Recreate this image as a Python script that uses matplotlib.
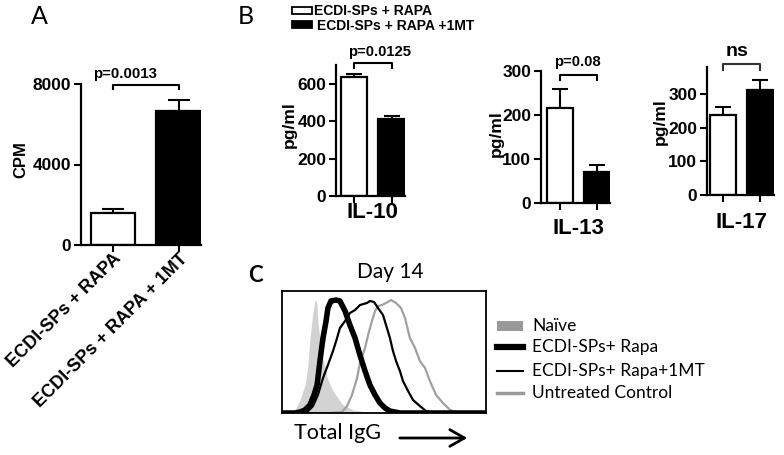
import matplotlib
matplotlib.use("Agg")
import matplotlib.pyplot as plt
from matplotlib.patches import Rectangle, FancyArrowPatch
from matplotlib.lines import Line2D

plt.rcParams['font.family'] = ['Liberation Sans', 'DejaVu Sans']

# ---------------- data ----------------
groups = ["ECDI-SPs + RAPA", "ECDI-SPs + RAPA + 1MT"]
cpm_vals = [1600, 6650]
cpm_err = [200, 570]

il10_vals = [635, 410]
il10_err = [15, 20]
il13_vals = [217, 70]
il13_err = [42, 16]
il17_vals = [237, 313]
il17_err = [24, 29]

legend_b = ["ECDI-SPs + RAPA", "ECDI-SPs + RAPA +1MT"]

# flow histogram (x: fluorescence, arbitrary 0-100 ; y: % of max)
naive_x = [0, 3.9, 6.4, 8.8, 11.3, 12.7, 13.7, 15.2, 16.2, 17.2, 17.6, 18.6, 19.6, 21.1, 22.1, 25, 27.5, 29.9, 34.8, 41.7, 57.8, 100]
naive_y = [0, 0.8, 2.5, 10.7, 23, 39, 61, 83, 93, 89, 75, 61, 48, 37, 29, 18, 12, 6.6, 2.5, 0.8, 0, 0]
rapa_x = [0, 6.4, 8.8, 11.3, 13.7, 15.7, 17.2, 18.6, 20.1, 21.6, 22.5, 24, 26.5, 28.4, 30.9, 33.3, 35.8, 38.2, 40.7, 43.1, 45.6, 48, 50.5, 52.9, 57.8, 100]
rapa_y = [0, 0, 0.8, 2.5, 6.6, 14.8, 23, 42.6, 61.5, 75.4, 86, 91.8, 92.6, 91.8, 83.6, 72, 61.5, 47.5, 34.4, 23, 14.8, 8.2, 4.1, 1.6, 0, 0]
mt_x = [0, 8.8, 12.3, 15.2, 17.6, 20.1, 22.5, 25, 27, 28.4, 30.9, 33.3, 35.8, 38.2, 41.7, 43.1, 45.1, 47.1, 49.5, 51, 52.9, 54.4, 55.9, 57.8, 59.3, 61.8, 64.2, 67.6, 70.6, 74, 100]
mt_y = [0, 0, 0.8, 5.7, 14.8, 28.7, 39.3, 50.8, 61.5, 69.7, 75.4, 82, 84.4, 88.5, 90.2, 91.8, 91, 86, 80.3, 72.1, 61.5, 50.8, 42.6, 34.4, 26.2, 18, 10.7, 5.7, 1.6, 0, 0]
untr_x = [0, 23.5, 29.4, 31.9, 34.3, 36.8, 38.2, 40.7, 42.2, 44.1, 45.6, 47.1, 49, 51, 53.4, 55.9, 58.3, 60.3, 62.7, 65.2, 67.6, 70.1, 72.5, 75.5, 78.9, 82.4, 85.3, 92.2, 100]
untr_y = [0, 0, 0.8, 5.7, 14.8, 28.7, 41, 53.3, 63.9, 75.4, 83.6, 87.7, 88.5, 90.2, 92.6, 90.2, 86.1, 77.9, 61.5, 53.3, 42.6, 36.9, 26.2, 14.8, 8.2, 2.5, 0.8, 0, 0]
legend_c = ["Naïve", "ECDI-SPs+ Rapa", "ECDI-SPs+ Rapa+1MT", "Untreated Control"]

W, H = 784, 455
fig = plt.figure(figsize=(W / 100, H / 100), dpi=100)


def px_axes(l, r, b, t):
    return fig.add_axes([l / W, 1 - b / H, (r - l) / W, (b - t) / H])


def bar_panel(ax, vals, errs, ylim, yticks, xlim, width, capsize, bracket=None, bcol='black'):
    x = [0, 1]
    ax.bar(x, vals, width=width, color=['white', 'black'], edgecolor='black', linewidth=1.6, zorder=2)
    ax.errorbar(x, vals, yerr=[[0, 0], errs], fmt='none', ecolor='black', elinewidth=1.5,
                capsize=capsize, capthick=1.5, zorder=1)
    ax.set_xlim(*xlim)
    ax.set_ylim(*ylim)
    ax.set_yticks(yticks)
    ax.set_xticks(x)
    ax.set_xticklabels([])
    for s in ['top', 'right']:
        ax.spines[s].set_visible(False)
    for s in ['left', 'bottom']:
        ax.spines[s].set_linewidth(1.6)
    ax.tick_params(axis='both', direction='out', length=5, width=1.5, pad=2, labelsize=12.5)
    for lb in ax.get_yticklabels():
        lb.set_fontweight('bold')
    ax.patch.set_visible(False)
    if bracket is not None:
        yb, yl = bracket
        ax.plot([0, 0, 1, 1], [yl, yb, yb, yl], color=bcol, lw=1.5, clip_on=False)


# Panel A
axA = px_axes(81, 201, 245, 84)
bar_panel(axA, cpm_vals, cpm_err, (0, 8000), [0, 4000, 8000], (-0.485, 1.34), 0.68, 8,
          bracket=(7950, 7750))

# Panel B
ax10 = px_axes(336, 405, 196, 65)
bar_panel(ax10, il10_vals, il10_err, (0, 700), [0, 200, 400, 600], (-0.47, 1.35), 0.7, 6,
          bracket=(712, 684))
ax13 = px_axes(541, 610, 203, 71)
bar_panel(ax13, il13_vals, il13_err, (0, 300), [0, 100, 200, 300], (-0.51, 1.35), 0.7, 6,
          bracket=(291, 279))
ax17 = px_axes(707, 774, 195, 67)
bar_panel(ax17, il17_vals, il17_err, (0, 380), [0, 100, 200, 300], (-0.43, 1.38), 0.7, 6,
          bracket=(389, 371), bcol='#333333')

# Panel C histogram
axC = px_axes(282, 486, 413, 291)
axC.fill_between(naive_x, naive_y, 0, color='#d2d2d2', lw=0, zorder=1)
axC.plot(untr_x, untr_y, color='#a0a0a0', lw=1.6, zorder=2)
axC.plot(mt_x, mt_y, color='black', lw=1.6, zorder=3)
axC.plot(rapa_x, rapa_y, color='black', lw=4.0, zorder=4, solid_joinstyle='round')
axC.set_xlim(0, 100)
axC.set_ylim(0, 100)
axC.set_xticks([])
axC.set_yticks([])
for s in axC.spines.values():
    s.set_linewidth(1.3)

# ---------------- overlay for text ----------------
ov = fig.add_axes([0, 0, 1, 1])
ov.set_xlim(0, W)
ov.set_ylim(H, 0)
ov.axis('off')

cal = ['Lato', 'DejaVu Sans']
ov.text(39, 16, "A", fontsize=18, family=cal, ha='center', va='center')
ov.text(246, 16, "B", fontsize=18, family=cal, ha='center', va='center')
ov.text(255, 276, "C", fontsize=16, family=cal, fontweight='bold', ha='center', va='center')

ov.text(125.5, 74, "p=0.0013", fontsize=10.8, fontweight='bold', ha='center', va='center')
ov.text(20.5, 160, "CPM", fontsize=12, fontweight='bold', rotation=90, ha='center', va='center')
ov.text(119, 256, groups[0], fontsize=13, fontweight='bold', rotation=45, rotation_mode='anchor',
        ha='right', va='center')
ov.text(185, 256, groups[1], fontsize=13, fontweight='bold', rotation=45, rotation_mode='anchor',
        ha='right', va='center')

# legend B
ov.add_patch(Rectangle((292, 7), 20, 7, facecolor='white', edgecolor='black', lw=1.3))
ov.add_patch(Rectangle((292, 21), 20, 7, facecolor='black', edgecolor='black', lw=1.3))
ov.text(314, 11, legend_b[0], fontsize=10, fontweight='bold', ha='left', va='center')
ov.text(317, 25.5, legend_b[1], fontsize=10, fontweight='bold', ha='left', va='center')

ov.text(380, 52, "p=0.0125", fontsize=10.7, fontweight='bold', ha='center', va='center')
ov.text(577, 62, "p=0.08", fontsize=10.7, fontweight='bold', ha='center', va='center')
ov.text(737, 52, "ns", fontsize=14, fontweight='bold', ha='center', va='center')

for xx, yy in [(289, 125), (496, 134), (660, 122)]:
    ov.text(xx, yy, "pg/ml", fontsize=12.5, fontweight='bold', rotation=90, ha='center', va='center')
ov.text(372, 213, "IL-10", fontsize=16, fontweight='bold', ha='center', va='center')
ov.text(578, 228, "IL-13", fontsize=16, fontweight='bold', ha='center', va='center')
ov.text(742, 222, "IL-17", fontsize=16, fontweight='bold', ha='center', va='center')

# Panel C texts
ov.text(390, 272, "Day 14", fontsize=15, family=cal, ha='center', va='center')
ov.text(294, 433, "Total IgG", fontsize=15.5, family=cal, ha='left', va='center')
ov.add_patch(FancyArrowPatch((397, 438), (470, 438), arrowstyle='->,head_length=7,head_width=4',
                             lw=2, color='black', mutation_scale=1.5))

rows = [326, 347, 371, 393]
ov.add_patch(Rectangle((497, rows[0] - 5), 26, 10, facecolor='#999999', edgecolor='none'))
ov.add_line(Line2D([497, 523], [rows[1], rows[1]], color='black', lw=4.5))
ov.add_line(Line2D([497, 523], [rows[2], rows[2]], color='black', lw=1.5))
ov.add_line(Line2D([497, 523], [rows[3], rows[3]], color='#999999', lw=2.5))
for r, t in zip(rows, legend_c):
    ov.text(532, r, t, fontsize=12.5, family=cal, ha='left', va='center')

fig.savefig("out.png", dpi=100)
